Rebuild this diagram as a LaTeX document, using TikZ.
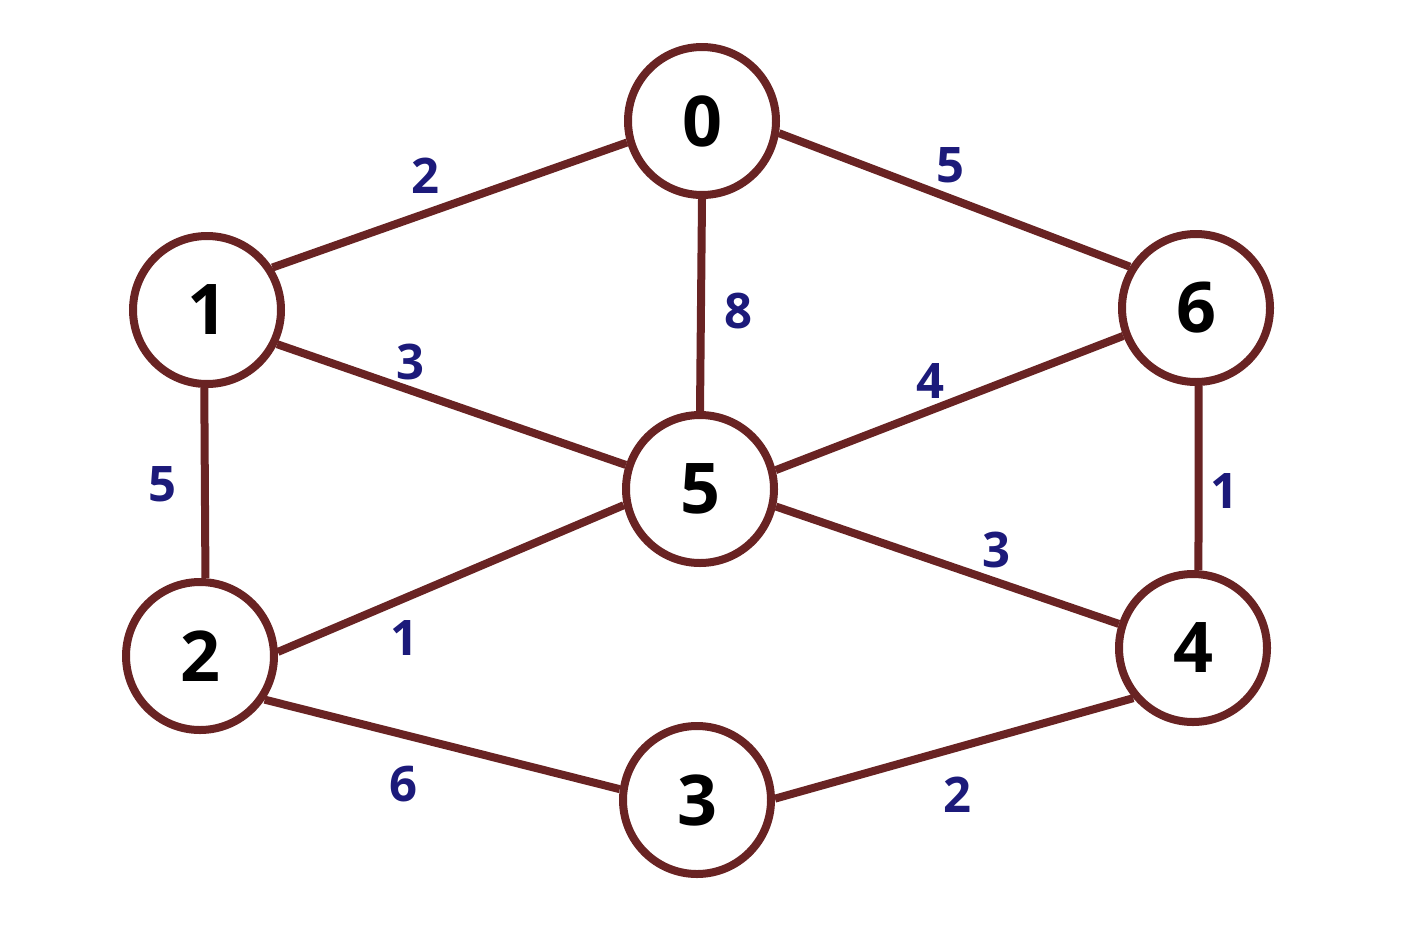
\documentclass[tikz,border=0pt]{standalone}
\usepackage{fontspec}
\setmainfont{Open Sans}
\definecolor{edgebrown}{HTML}{692323}
\definecolor{labelblue}{HTML}{1C1A7A}
\begin{document}
\begin{tikzpicture}[x=1pt,y=-1pt,
  vertex/.style={circle,draw=edgebrown,line width=8pt,fill=white,minimum size=148pt,inner sep=0pt,
    font=\fontsize{70}{70}\selectfont\bfseries},
  edge/.style={draw=edgebrown,line width=8pt},
  wlabel/.style={text=labelblue,inner sep=0pt,font=\fontsize{49}{49}\selectfont\bfseries}]
\useasboundingbox[fill=white] (0,0) rectangle (1402,924);
\node[vertex] (n0) at (702,121) {0};
\node[vertex] (n1) at (207,310) {1};
\node[vertex] (n6) at (1196,308) {6};
\node[vertex] (n5) at (700,489) {5};
\node[vertex] (n2) at (200,656) {2};
\node[vertex] (n4) at (1193,648) {4};
\node[vertex] (n3) at (697,800) {3};
\draw[edge] (n1.33.5) -- (n0.196.3);
\draw[edge] (n0.-9) -- (n6.148.8);
\draw[edge] (n0.270) -- (n5.90);
\draw[edge] (n1.-26.2) -- (n5.162);
\draw[edge] (n5.14.7) -- (n6.201);
\draw[edge] (n1.268.5) -- (n2.86);
\draw[edge] (n6.-88) -- (n4.86);
\draw[edge] (n5.192.5) -- (n2.3);
\draw[edge] (n5.-13.7) -- (n4.162.5);
\draw[edge] (n2.-34) -- (n3.172.6);
\draw[edge] (n3.1.5) -- (n4.220);
\node[wlabel] (w10) at (425,176) {2};
\node[wlabel] (w06) at (950,165) {5};
\node[wlabel] (w05) at (738,311) {8};
\node[wlabel] (w15) at (410,362) {3};
\node[wlabel] (w56) at (930,381) {4};
\node[wlabel] (w12) at (162,484) {5};
\node[wlabel] (w64) at (1224,491) {1};
\node[wlabel] (w52) at (404,638) {1};
\node[wlabel] (w54) at (996,550) {3};
\node[wlabel] (w23) at (403,784) {6};
\node[wlabel] (w34) at (957,795) {2};
\end{tikzpicture}
\end{document}
